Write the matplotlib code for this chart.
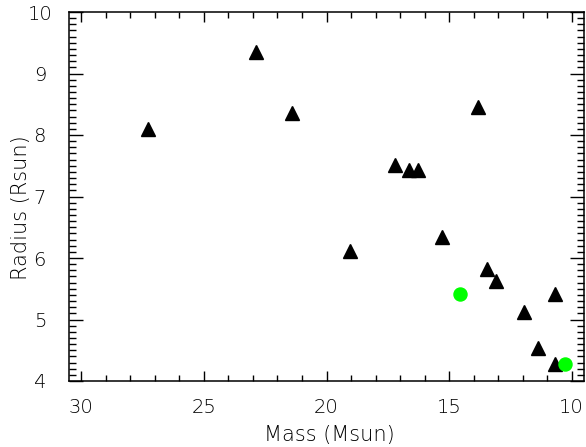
import matplotlib
matplotlib.use('Agg')
import matplotlib.pyplot as plt
from matplotlib.ticker import MultipleLocator

# black triangles
tri_mass = [27.28, 22.86, 21.39, 19.04, 17.21, 16.64, 16.27, 13.83,
            15.28, 13.46, 13.08, 10.69, 11.94, 11.37, 10.69]
tri_radius = [8.09, 9.35, 8.35, 6.11, 7.51, 7.43, 7.43, 8.45,
              6.34, 5.82, 5.63, 5.41, 5.13, 4.54, 4.28]

# green circles
circ_mass = [14.57, 10.28]
circ_radius = [5.41, 4.28]

plt.rcParams['font.family'] = 'DejaVu Sans'
plt.rcParams['font.weight'] = 'light'
plt.rcParams['axes.labelweight'] = 'light'

fig = plt.figure(figsize=(5.86, 4.47), dpi=100)
ax = fig.add_axes([69 / 586, 1 - 381 / 447, (584 - 69) / 586, (381 - 12) / 447])

ax.plot(tri_mass, tri_radius, linestyle='none', marker='^', markersize=9.6,
        color='black')
ax.plot(circ_mass, circ_radius, linestyle='none', marker='o', markersize=9.4,
        color='#00ff00')

ax.set_xlim(30.5, 9.5)
ax.set_ylim(4, 10)

ax.xaxis.set_major_locator(MultipleLocator(5))
ax.xaxis.set_minor_locator(MultipleLocator(1))
ax.yaxis.set_major_locator(MultipleLocator(1))
ax.yaxis.set_minor_locator(MultipleLocator(0.1))

ax.tick_params(axis='both', which='both', direction='in', top=True, right=True,
               width=1, labelsize=14, colors='black')
ax.tick_params(axis='x', which='major', length=7, pad=12)
ax.tick_params(axis='x', which='minor', length=4)
ax.tick_params(axis='y', which='major', length=10, pad=21)
ax.tick_params(axis='y', which='minor', length=5)
for lab in ax.get_yticklabels():
    lab.set_horizontalalignment('center')

for sp in ax.spines.values():
    sp.set_linewidth(1.1)

ax.set_xlabel('Mass (Msun)', fontsize=15, va='center')
ax.set_ylabel('Radius (Rsun)', fontsize=15, va='center')
ax.xaxis.set_label_coords(0.505, -0.146)
ax.yaxis.set_label_coords(-0.093, 0.47)

fig.savefig('out.png', dpi=100)
